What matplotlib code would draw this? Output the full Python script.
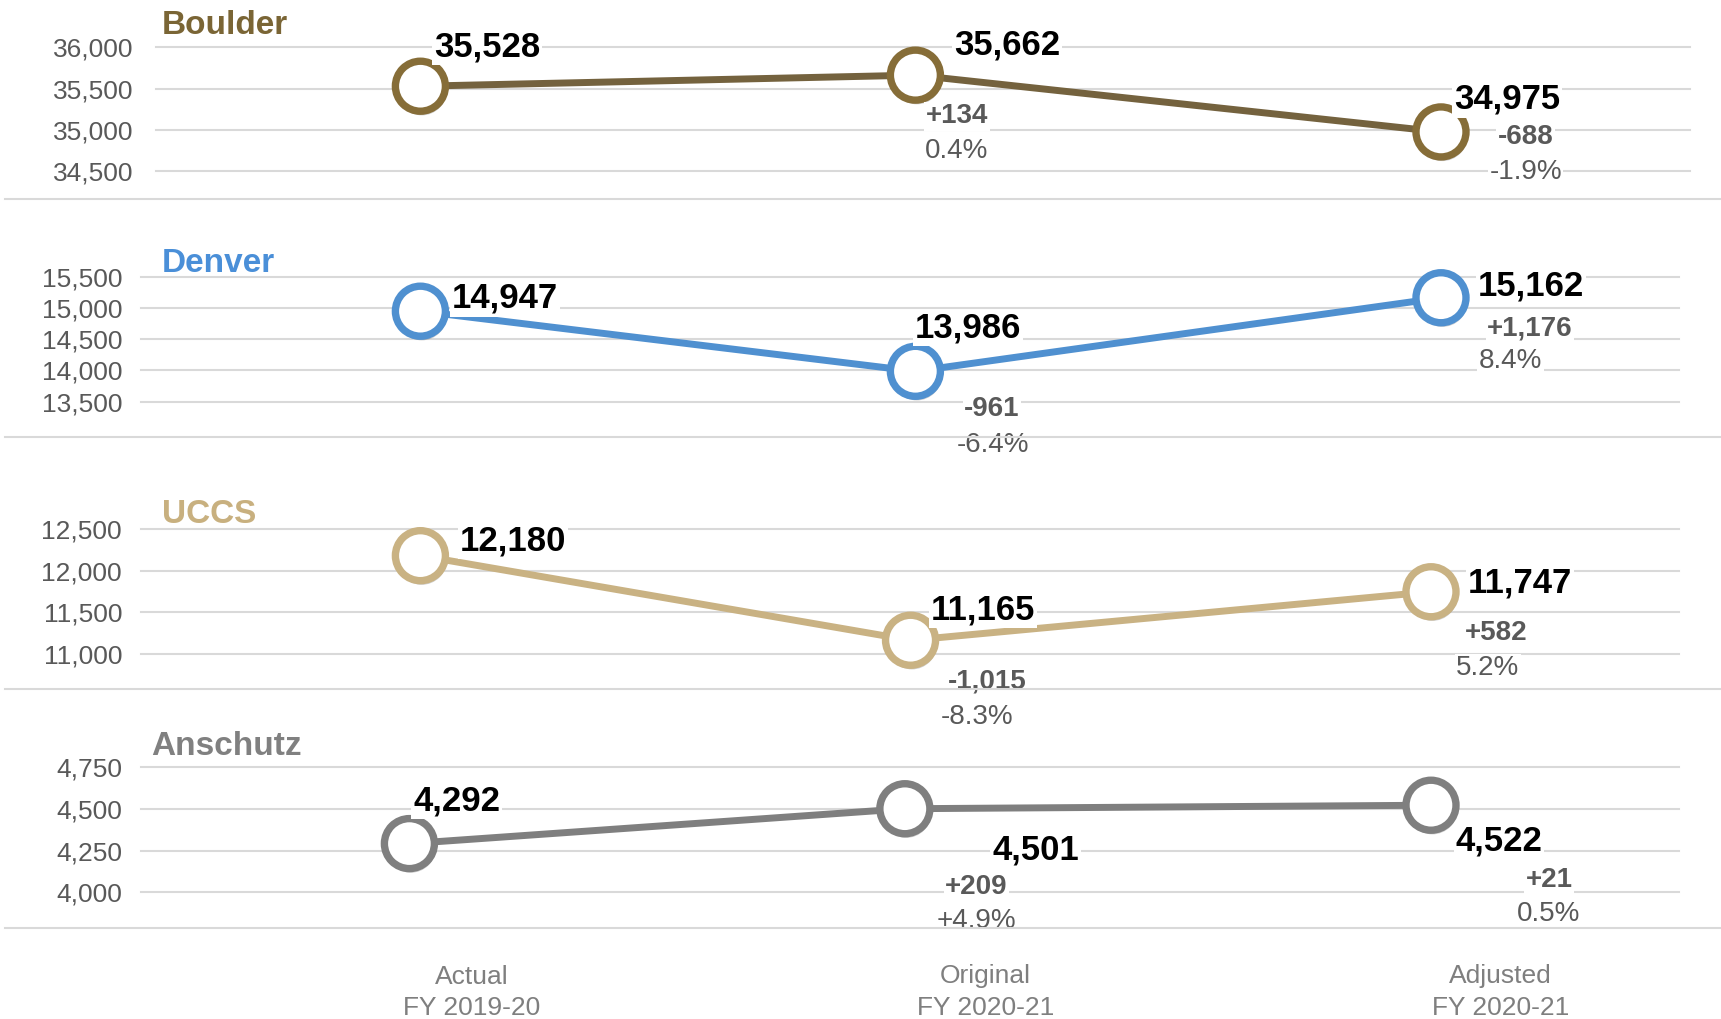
import matplotlib
matplotlib.use('Agg')
import matplotlib.pyplot as plt
import matplotlib.patheffects as pe
from matplotlib.lines import Line2D

plt.rcParams['font.family'] = ['Liberation Sans', 'DejaVu Sans']

# ---- data ----
periods = ['Actual\nFY 2019-20', 'Original\nFY 2020-21', 'Adjusted\nFY 2020-21']
campuses = ['Boulder', 'Denver', 'UCCS', 'Anschutz']

boulder = [35528, 35662, 34975]
denver = [14947, 13986, 15162]
uccs = [12180, 11165, 11747]
anschutz = [4292, 4501, 4522]

boulder_chg = ['', '+134', '-688']
denver_chg = ['', '-961', '+1,176']
uccs_chg = ['', '-1,015', '+582']
anschutz_chg = ['', '+209', '+21']

boulder_pct = ['', '0.4%', '-1.9%']
denver_pct = ['', '-6.4%', '8.4%']
uccs_pct = ['', '-8.3%', '5.2%']
anschutz_pct = ['', '+4.9%', '0.5%']

boulder_ticks = [34500, 35000, 35500, 36000]
denver_ticks = [13500, 14000, 14500, 15000, 15500]
uccs_ticks = [11000, 11500, 12000, 12500]
anschutz_ticks = [4000, 4250, 4500, 4750]

# ---- layout (pixels in a 1721x1019 canvas) ----
W, H = 1721, 1019
fig = plt.figure(figsize=(17.21, 10.19), dpi=100)

slots = [0, 0.97, 2]   # horizontal slot of each period

panels = [
    dict(name=campuses[0], vals=boulder, chg=boulder_chg, pct=boulder_pct, ticks=boulder_ticks,
         box=(156, 47.2, 1690, 171.2), mx=(420.4, 1441), pad=16.5, title=(162, 25),
         tcol='#7a6535', lcol='#74623e', mcol='#866d38', sep=198.7,
         voff=[(48, 30.5), (66, 24), (47.4, 25.4)],
         coff=[None, (30, -28), (61, -2.2)], poff=[None, (30, -53.3), (61, -27.5)]),
    dict(name=campuses[1], vals=denver, chg=denver_chg, pct=denver_pct, ticks=denver_ticks,
         box=(140.5, 276.6, 1679, 401.7), mx=(420.4, 1441), pad=13.3, title=(162, 264),
         tcol='#4a8fd8', lcol='#4f90d0', mcol='#4f90d0', sep=436.8,
         voff=[(61, 11.2), (38, 33), (65, 10.4)],
         coff=[None, (55, -26), (64, -20.8)], poff=[None, (56, -51.8), (50, -44.3)]),
    dict(name=campuses[2], vals=uccs, chg=uccs_chg, pct=uccs_pct, ticks=uccs_ticks,
         box=(140.5, 529, 1679, 654), mx=(420.4, 1431), pad=13.3, title=(162, 514.5),
         tcol='#c8b07f', lcol='#c9b283', mcol='#c9b283', sep=689.3,
         voff=[(66.4, 12.9), (52, 24), (64, 8)],
         coff=[None, (55.3, -28), (46.6, -28.3)], poff=[None, (48, -53.4), (41, -53.6)]),
    dict(name=campuses[3], vals=anschutz, chg=anschutz_chg, pct=anschutz_pct, ticks=anschutz_ticks,
         box=(140.5, 767.2, 1679, 892.3), mx=(409.4, 1431), pad=13.3, title=(151.5, 746.5),
         tcol='#808080', lcol='#7f7f7f', mcol='#7f7f7f', sep=927.5,
         voff=[(34, 32.8), (94, -27.4), (49, -23.8)],
         coff=[None, (51.5, -55), (85, -52.6)], poff=[None, (51.5, -79.6), (85, -76.6)]),
]

period_off = [45, 58, 50]
grid_c = '#d9d9d9'
box_kw = dict(boxstyle='square,pad=0.05', fc='white', ec='none')

last_ax = None
for p in panels:
    left, top, right, bottom = p['box']
    ax = fig.add_axes([left / W, 1 - bottom / H, (right - left) / W, (bottom - top) / H])
    p0, p2 = p['mx']
    s = (p2 - p0) / 2
    ax.set_xlim(-(p0 - left) / s, 2 + (right - p2) / s)
    ticks = p['ticks']
    ax.set_ylim(ticks[0], ticks[-1])
    ax.set_yticks(ticks)
    ax.set_yticklabels([f'{t:,}' for t in ticks])
    ax.set_xticks([])
    for t in ticks:
        ax.axhline(t, color=grid_c, lw=1.5, clip_on=False, zorder=1)
    for sp in ax.spines.values():
        sp.set_visible(False)
    ax.tick_params(axis='y', length=0, pad=p['pad'], labelsize=19, labelcolor='#595959')
    ax.patch.set_alpha(0)

    ax.plot(slots, p['vals'], color=p['lcol'], lw=5, zorder=3, clip_on=False)
    ax.plot(slots, p['vals'], ls='none', marker='o', ms=36, mfc='white', mec=p['mcol'], mew=5.3,
            zorder=4, clip_on=False,
            path_effects=[pe.SimplePatchShadow(offset=(1.0, -3.0), shadow_rgbFace='k', alpha=0.18),
                          pe.Normal()])

    for i, v in enumerate(p['vals']):
        dx, dy = p['voff'][i]
        ax.annotate(f'{v:,}', (slots[i], v), xytext=(dx, dy - 2), textcoords='offset points',
                    ha='center', va='center', fontsize=25, fontweight='bold', color='black',
                    bbox=box_kw, zorder=6, annotation_clip=False)
        if p['chg'][i]:
            dx, dy = p['coff'][i]
            ax.annotate(p['chg'][i], (slots[i], v), xytext=(dx, dy - 1.5), textcoords='offset points',
                        ha='center', va='center', fontsize=20, fontweight='bold', color='#595959',
                        bbox=box_kw, zorder=6, annotation_clip=False)
            dx, dy = p['poff'][i]
            ax.annotate(p['pct'][i], (slots[i], v), xytext=(dx, dy - 1.5), textcoords='offset points',
                        ha='center', va='center', fontsize=20, color='#595959',
                        bbox=box_kw, zorder=6, annotation_clip=False)

    tx, ty = p['title']
    fig.text(tx / W, 1 - ty / H, p['name'], fontsize=24, fontweight='bold', color=p['tcol'],
             ha='left', va='center')
    fig.add_artist(Line2D([5 / W, 1], [1 - p['sep'] / H] * 2, transform=fig.transFigure,
                          color=grid_c, lw=1.5))
    last_ax = ax

for i, lab in enumerate(periods):
    last_ax.annotate(lab, (slots[i], 0), xycoords=('data', 'axes fraction'),
                     xytext=(period_off[i], -72), textcoords='offset points',
                     ha='center', va='center', fontsize=19, color='#7f7f7f',
                     linespacing=1.4, annotation_clip=False)

fig.savefig('out.png', dpi=100)
